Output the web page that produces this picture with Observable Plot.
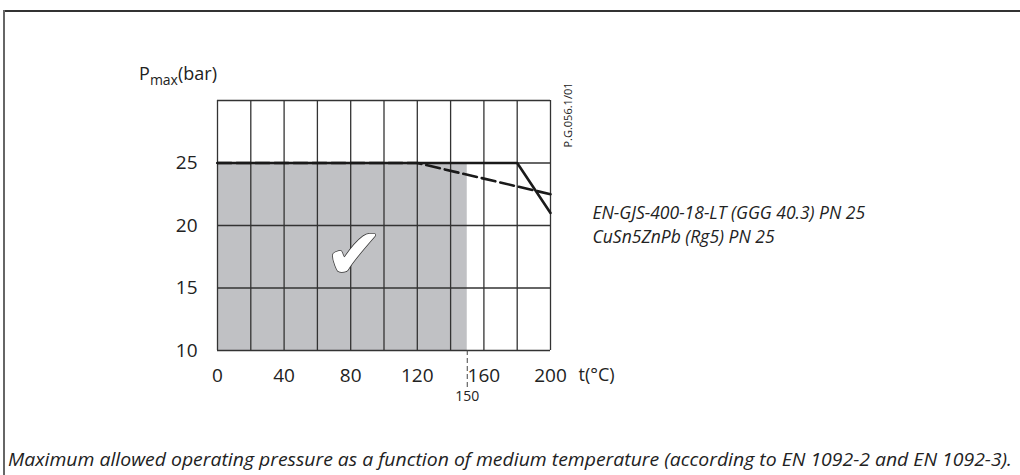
<!DOCTYPE html>
<html><head><meta charset="utf-8">
<script src="https://cdn.jsdelivr.net/npm/d3@7"></script>
<script src="https://cdn.jsdelivr.net/npm/@observablehq/plot@0.6"></script>
<style>
html,body{margin:0;padding:0;background:#fff;}
#wrap{position:relative;width:1020px;height:475px;overflow:hidden;font-family:"Open Sans",sans-serif;color:#222;}
#frameTop{position:absolute;left:3px;top:10px;width:1017px;height:0;border-top:2px solid #333;}
#frameLeft{position:absolute;left:3px;top:10px;width:0;height:465px;border-left:2px solid #666;}
#chart{position:absolute;left:0;top:0;}
#caption{position:absolute;left:8px;top:448px;font-style:italic;font-size:18.5px;line-height:22px;white-space:nowrap;transform-origin:0 0;color:#222;}
</style></head><body>
<div id="wrap"><div id="frameTop"></div><div id="frameLeft"></div><div id="chart"></div><div id="caption"></div></div>
<script>
// ---- data ----
const xTicks = [0, 40, 80, 120, 160, 200];
const xGrid = [0, 20, 40, 60, 80, 100, 120, 140, 160, 180, 200];
const yTicks = [10, 15, 20, 25];
const yGrid = [10, 15, 20, 25, 30];
const markerTick = [150];
const ductileIron = [{t: 0, p: 25}, {t: 180, p: 25}, {t: 200, p: 21}];
const bronze = [{t: 0, p: 25}, {t: 120, p: 25}, {t: 200, p: 22.5}];
const approvedRange = [{t1: 0, t2: 150, p1: 10, p2: 25}];
const checkMark = [{t: 82, p: 17.6}];
const legendLabels = ["EN-GJS-400-18-LT (GGG 40.3) PN 25", "CuSn5ZnPb (Rg5) PN 25"];
const drawingCode = ["P.G.056.1/01"];
const xUnit = ["t(°C)"];
const captionText = "Maximum allowed operating pressure as a function of medium temperature (according to EN 1092-2 and EN 1092-3).";

const gridColor = "#333";
const chart = Plot.plot({
  width: 1020,
  height: 420,
  marginLeft: 217,
  marginRight: 470,
  marginTop: 100,
  marginBottom: 70,
  style: {fontFamily: "Open Sans", fontSize: "19px", color: "#222", background: "transparent"},
  x: {domain: [0, 200]},
  y: {domain: [10, 30]},
  marks: [
    Plot.rect(approvedRange, {x1: "t1", x2: "t2", y1: "p1", y2: "p2", fill: "#c0c1c4"}),
    Plot.ruleX(xGrid, {y1: 10, y2: 30, stroke: gridColor, strokeWidth: 1.3}),
    Plot.ruleY(yGrid, {x1: 0, x2: 200, stroke: gridColor, strokeWidth: 1.3}),
    Plot.line(bronze, {x: "t", y: "p", stroke: "#1a1a1a", strokeWidth: 2.6, strokeDasharray: "14,5"}),
    Plot.line(ductileIron, {x: "t", y: "p", stroke: "#1a1a1a", strokeWidth: 2.6}),
    Plot.axisX(xTicks, {tickSize: 0, tickPadding: 18, fontSize: 19, label: null}),
    Plot.axisY(yTicks, {tickSize: 0, tickPadding: 20, fontSize: 19, label: null}),
    Plot.axisX(markerTick, {tickSize: 38, tickPadding: 3, fontSize: 14, label: null, strokeDasharray: "5,3", stroke: "#444"}),
    Plot.text(xUnit, {x: 200, y: 10, dx: 28, dy: 25, textAnchor: "start", fontSize: 18}),
    Plot.text(checkMark, {x: "t", y: "p", text: () => "✔", fontSize: 70, fontFamily: "DejaVu Sans", fill: "white", stroke: "#333", strokeWidth: 1.5}),
    Plot.text(drawingCode, {frameAnchor: "top-right", rotate: -90, dx: 14, dy: -18, textAnchor: "end", fontSize: 11}),
    Plot.text(legendLabels.slice(0, 1), {frameAnchor: "top-right", dx: 42, dy: 106, textAnchor: "start", fontSize: 17.5, fontStyle: "italic"}),
    Plot.text(legendLabels.slice(1, 2), {frameAnchor: "top-right", dx: 42, dy: 130, textAnchor: "start", fontSize: 17.5, fontStyle: "italic"}),
  ]
});
document.getElementById("chart").appendChild(chart);

// y-axis title with subscript
const svg = d3.select(chart);
const yTitle = svg.append("text").attr("x", 178).attr("y", 80)
  .attr("font-family", "Open Sans").attr("font-size", 18).attr("fill", "#222");
yTitle.append("tspan").text("P");
yTitle.append("tspan").attr("font-size", 14).attr("dy", 5).text("max");
yTitle.append("tspan").attr("dy", -5).text("(bar)");

// caption
const cap = document.getElementById("caption");
cap.textContent = captionText;
const w = cap.getBoundingClientRect().width;
cap.style.transform = `scaleX(${1004 / w})`;
</script>
</body></html>
